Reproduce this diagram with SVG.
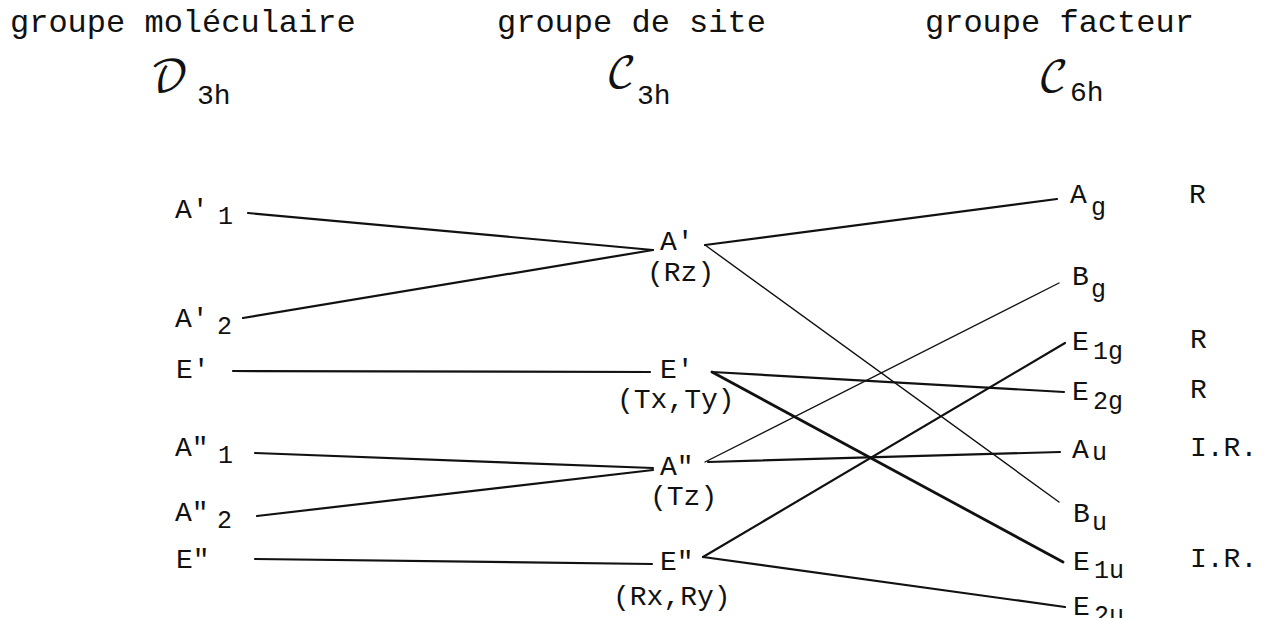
<svg xmlns="http://www.w3.org/2000/svg" width="1265" height="618" viewBox="0 0 1265 618">
<style>
text{font-family:"Liberation Mono","Courier New",monospace;fill:#111}
.h{font-size:32px}
.l{font-size:28px}
.s{font-size:25px}
.scr{font-family:"DejaVu Math TeX Gyre","Noto Sans Math","DejaVu Serif",serif;font-size:42px}
.c line{stroke:#111;stroke-width:2.2;stroke-linecap:round}
.c line.thin{stroke-width:1.4}
.c line.thick{stroke-width:2.8}
</style>
<rect width="1265" height="618" fill="#fff"/>
<g id="headers">
<text class="h" x="10" y="32">groupe moléculaire</text>
<text class="h" x="497" y="32">groupe de site</text>
<text class="h" x="925" y="32">groupe facteur</text>
<text class="scr" x="150" y="92">𝒟</text><text class="l" x="197" y="104">3h</text>
<text class="scr" x="606" y="88">𝒞</text><text class="l" x="637" y="104">3h</text>
<text class="scr" x="1038" y="92">𝒞</text><text class="l" x="1070" y="101">6h</text>
</g>
<g class="c" id="connectors">
<line x1="248" y1="213" x2="653" y2="250"/>
<line x1="243" y1="318" x2="653" y2="250"/>
<line x1="233" y1="371" x2="650" y2="372"/>
<line x1="255" y1="453" x2="653" y2="468"/>
<line x1="257" y1="516" x2="653" y2="470"/>
<line x1="255" y1="559" x2="652" y2="564"/>
<line x1="705" y1="245" x2="1057" y2="199"/>
<line class="thin" x1="705" y1="245" x2="1059" y2="502"/>
<line x1="712" y1="372" x2="1064" y2="392"/>
<line class="thick" x1="712" y1="372" x2="1063" y2="562"/>
<line class="thin" x1="705" y1="462" x2="1059" y2="283"/>
<line x1="708" y1="462" x2="1060" y2="452"/>
<line x1="703" y1="557" x2="1065" y2="343"/>
<line x1="703" y1="557" x2="1065" y2="607"/>
</g>
<g id="n-A1p"><text class="l" x="175" y="218">A'</text><text class="s" x="218" y="224">1</text></g>
<g id="n-A2p"><text class="l" x="175" y="327">A'</text><text class="s" x="217" y="334">2</text></g>
<g id="n-Ep"><text class="l" x="176" y="378">E'</text></g>
<g id="n-A1pp"><text class="l" x="175" y="456">A"</text><text class="s" x="218" y="463">1</text></g>
<g id="n-A2pp"><text class="l" x="175" y="521">A"</text><text class="s" x="217" y="528">2</text></g>
<g id="n-Epp"><text class="l" x="176" y="568">E"</text></g>
<g id="s-Ap"><text class="l" x="660" y="250">A'</text><text class="l" x="647" y="281">(Rz)</text></g>
<g id="s-Ep"><text class="l" x="660" y="378">E'</text><text class="l" x="617" y="408">(Tx,Ty)</text></g>
<g id="s-App"><text class="l" x="660" y="475">A"</text><text class="l" x="650" y="505">(Tz)</text></g>
<g id="s-Epp"><text class="l" x="660" y="570">E"</text><text class="l" x="613" y="605">(Rx,Ry)</text></g>
<g id="f-Ag"><text class="l" x="1070" y="203">A</text><text class="s" x="1091" y="215">g</text><text class="l" x="1189" y="203">R</text></g>
<g id="f-Bg"><text class="l" x="1072" y="285">B</text><text class="s" x="1091" y="297">g</text></g>
<g id="f-E1g"><text class="l" x="1072" y="350">E</text><text class="s" x="1093" y="359">1g</text><text class="l" x="1190" y="348">R</text></g>
<g id="f-E2g"><text class="l" x="1072" y="400">E</text><text class="s" x="1093" y="409">2g</text><text class="l" x="1190" y="398">R</text></g>
<g id="f-Au"><text class="l" x="1072" y="458">A</text><text class="s" x="1092" y="460">u</text><text class="l" x="1190" y="456">I.R.</text></g>
<g id="f-Bu"><text class="l" x="1073" y="522">B</text><text class="s" x="1092" y="530">u</text></g>
<g id="f-E1u"><text class="l" x="1073" y="570">E</text><text class="s" x="1094" y="578">1u</text><text class="l" x="1190" y="567">I.R.</text></g>
<g id="f-E2u"><text class="l" x="1073" y="615">E</text><text class="s" x="1094" y="623">2u</text></g>
</svg>
